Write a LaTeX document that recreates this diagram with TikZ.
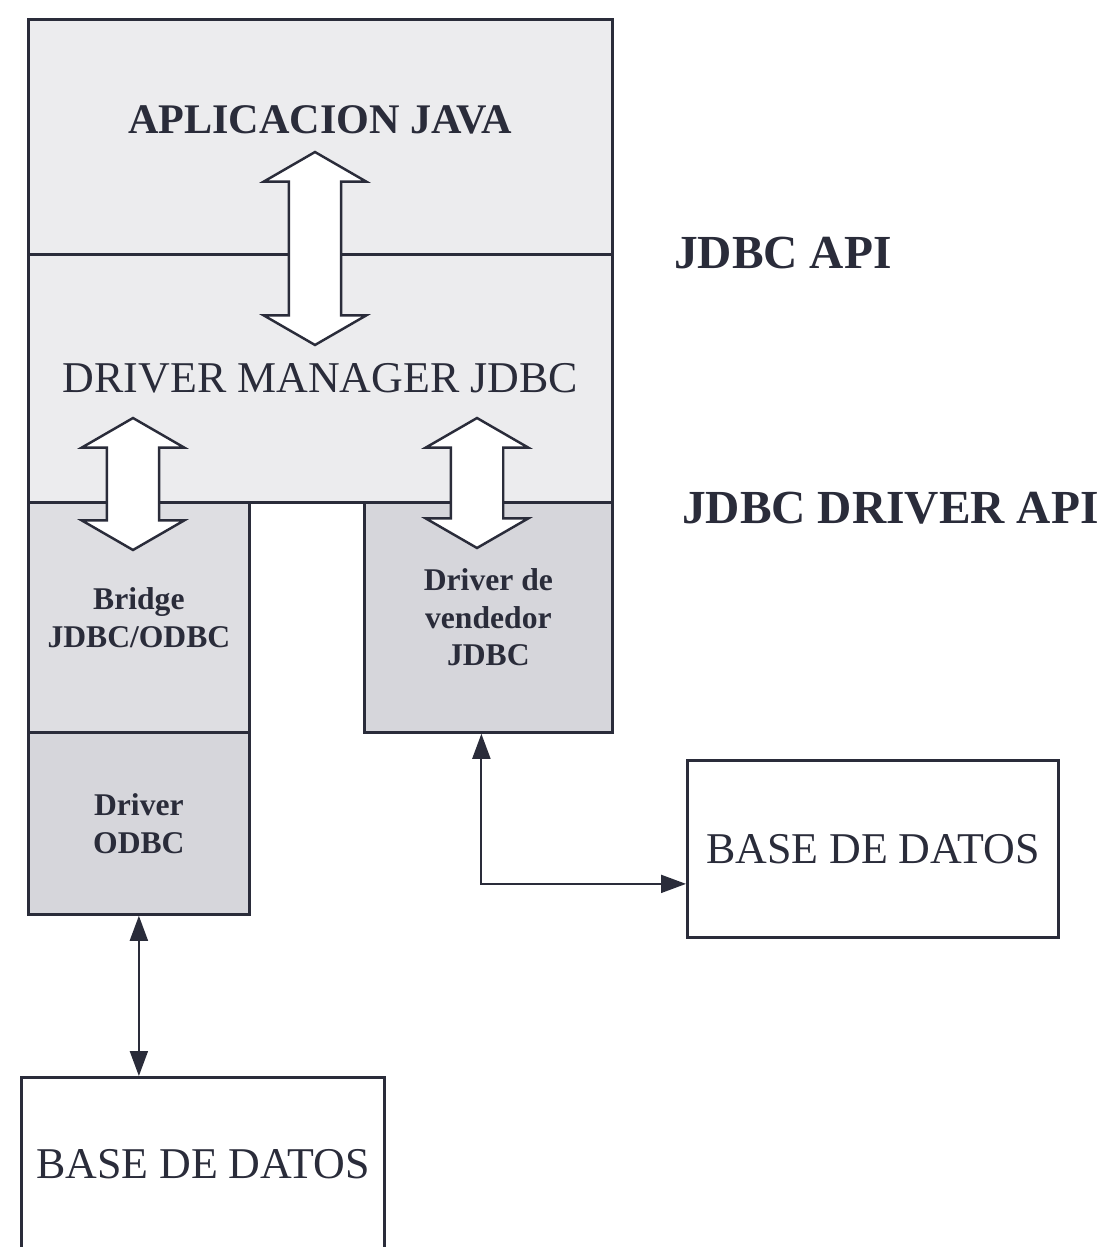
\documentclass[tikz,border=0pt]{standalone}
\usepackage{fontspec}
\setmainfont{Liberation Serif}
\usetikzlibrary{arrows.meta, positioning, shapes.arrows}
\definecolor{InkGray}{RGB}{42, 44, 58}
\definecolor{LayerLight}{RGB}{236, 236, 238}
\definecolor{LayerMid}{RGB}{222, 222, 226}
\definecolor{LayerDark}{RGB}{214, 214, 219}

\begin{document}
\begin{tikzpicture}[x=0.02cm, y=-0.02cm,
        every node/.style={text=InkGray},
        layer/.style={draw=InkGray, line width=1.6pt, anchor=north west, inner sep=0pt, align=center},
        hollow/.style={double arrow, draw=InkGray, line width=1.4pt, fill=white, shape border rotate=90,
            inner xsep=0.5cm, inner ysep=0pt, double arrow head extend=0.5cm, double arrow tip angle=120},
        link/.style={InkGray, line width=1.1pt, {Triangle[length=0.5cm, width=0.36cm]}-{Triangle[length=0.5cm, width=0.36cm]}},
        bigtext/.style={font=\fontsize{25}{30}\selectfont},
        drvtext/.style={font=\fontsize{18}{21.5}\selectfont\bfseries},
        apitext/.style={font=\fontsize{27}{32}\selectfont\bfseries, anchor=west}]
        \useasboundingbox (0,0) rectangle (1118,1247);
        \clip (0,0) rectangle (1118,1247);

        % Java side
        \node[layer, fill=LayerLight, minimum width=11.68cm, minimum height=4.70cm] (app) at (27,18) {};
        \node[font=\fontsize{24}{29}\selectfont\bfseries] (apptitle) at (320,120) {APLICACION JAVA};
        \node[layer, fill=LayerLight, minimum width=11.68cm, minimum height=4.96cm, bigtext] (mgr) at (27,253) {DRIVER MANAGER JDBC};

        % Drivers
        \node[layer, fill=LayerMid, minimum width=4.42cm, minimum height=4.60cm, drvtext] (bridge) at (27,501) {Bridge\\JDBC/ODBC};
        \node[layer, fill=LayerDark, minimum width=4.42cm, minimum height=3.64cm, drvtext] (odbc) at (27,731) {Driver\\ODBC};
        \node[layer, fill=LayerDark, minimum width=4.96cm, minimum height=4.60cm, drvtext] (vendor) at (363,501) {Driver de\\vendedor\\JDBC};

        % Hollow arrows between layers
        \node[hollow, minimum height=3.86cm] (appmgr) at (315,248.5) {};
        \node[hollow, minimum height=2.64cm] (mgrbridge) at (133,484) {};
        \node[hollow, minimum height=2.60cm] (mgrvendor) at (477,483) {};

        % API labels
        \node[apitext] (api) at (668,253) {JDBC API};
        \node[apitext] (drvapi) at (676,508) {JDBC DRIVER API};

        % Databases
        \node[layer, fill=white, minimum width=7.42cm, minimum height=3.54cm, bigtext] (dbright) at (686,759) {BASE DE DATOS};
        \node[layer, fill=white, minimum width=7.26cm, minimum height=3.48cm, bigtext] (dbleft) at (20,1076) {BASE DE DATOS};

        % Connectors
        \draw[link] (odbc.south) -- (odbc.south |- dbleft.north);
        \draw[link] ([xshift=-0.14cm]vendor.south) |- ([yshift=-0.7cm]dbright.west);
    \end{tikzpicture}
\end{document}
